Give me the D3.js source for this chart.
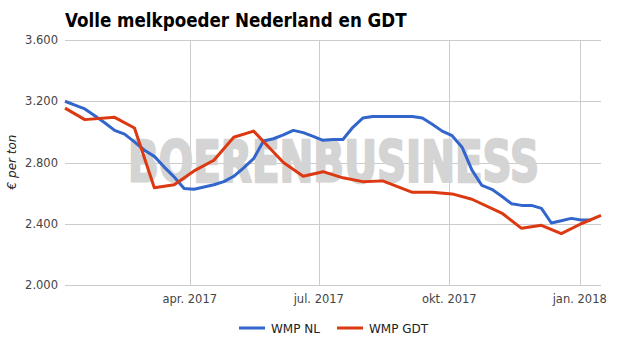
<!DOCTYPE html>
<html>
<head>
<meta charset="utf-8">
<script src="https://d3js.org/d3.v7.min.js"></script>
<style>
  body { margin: 0; background: #fff; }
  svg { display: block; font-family: "DejaVu Sans", sans-serif; }
</style>
</head>
<body>
<svg id="chart" width="625" height="355"></svg>
<script>
// WMP NL, weekly quotations from 3 jan 2017
var nlStart = "2017-01-03";
var nlValues = [3200, 3175, 3150, 3105, 3060, 3010, 2985, 2935, 2880, 2840,
  2770, 2705, 2630, 2625, 2640, 2655, 2675, 2710, 2765, 2825,
  2940, 2955, 2980, 3010, 2995, 2970, 2945, 2950, 2950, 3030,
  3090, 3100, 3100, 3100, 3100, 3100, 3090, 3050, 3005, 2975,
  2900, 2750, 2650, 2625, 2580, 2530, 2520, 2520, 2500, 2405,
  2420, 2435, 2425, 2425];

// WMP GDT, auction dates
var gdtDates = ["2017-01-03", "2017-01-17", "2017-02-07", "2017-02-21", "2017-03-07",
  "2017-03-21", "2017-04-04", "2017-04-18", "2017-05-02", "2017-05-16",
  "2017-06-06", "2017-06-20", "2017-07-04", "2017-07-18", "2017-08-01",
  "2017-08-15", "2017-09-05", "2017-09-19", "2017-10-03", "2017-10-17",
  "2017-11-07", "2017-11-21", "2017-12-05", "2017-12-19", "2018-01-02",
  "2018-01-16"];
var gdtValues = [3155, 3080, 3095, 3025, 2635, 2655, 2745, 2815, 2965, 3005,
  2800, 2710, 2740, 2700, 2675, 2680, 2605, 2605, 2595, 2560,
  2470, 2370, 2390, 2335, 2400, 2455];

var yTicks = [2000, 2400, 2800, 3200, 3600];
var xTicks = ["2017-04-01", "2017-07-01", "2017-10-01", "2018-01-01"];
var xTickLabels = ["apr. 2017", "jul. 2017", "okt. 2017", "jan. 2018"];
var seriesNames = ["WMP NL", "WMP GDT"];
var colors = ["#3366cc", "#dc3912"];

var parse = d3.timeParse("%Y-%m-%d");
var nl = nlValues.map(function(v, i) {
  return { date: d3.timeDay.offset(parse(nlStart), i * 7), value: v };
});
var gdt = gdtValues.map(function(v, i) {
  return { date: parse(gdtDates[i]), value: v };
});

var svg = d3.select("#chart");
var plotLeft = 65, plotRight = 601, plotTop = 40, plotBottom = 285;

var x = d3.scaleTime()
  .domain([parse("2017-01-03"), parse("2018-01-16")])
  .range([plotLeft, plotRight]);
var y = d3.scaleLinear().domain([2000, 3600]).range([plotBottom, plotTop]);

var fmt = function(d) { return d3.format(",")(d).replace(",", "."); };

// title
svg.append("text")
  .attr("x", 65).attr("y", 27)
  .style("font-family", "'DejaVu Sans Condensed', 'DejaVu Sans', sans-serif")
  .style("font-stretch", "condensed")
  .style("font-size", "18.6px").style("font-weight", "bold")
  .style("fill", "#000")
  .text("Volle melkpoeder Nederland en GDT");

// gridlines
svg.append("g").selectAll("line").data(yTicks).enter().append("line")
  .attr("x1", plotLeft).attr("x2", plotRight)
  .attr("y1", function(d) { return Math.round(y(d)) + 0.5; })
  .attr("y2", function(d) { return Math.round(y(d)) + 0.5; })
  .style("stroke", "#cccccc");

svg.append("g").selectAll("line").data(xTicks).enter().append("line")
  .attr("x1", function(d) { return Math.round(x(parse(d))) + 0.5; })
  .attr("x2", function(d) { return Math.round(x(parse(d))) + 0.5; })
  .attr("y1", plotTop).attr("y2", plotBottom)
  .style("stroke", "#cccccc");

// y labels
svg.append("g").selectAll("text").data(yTicks).enter().append("text")
  .attr("x", 58).attr("y", function(d) { return y(d) + 4; })
  .attr("text-anchor", "end")
  .style("font-size", "11.5px").style("fill", "#444")
  .text(fmt);

// x labels
svg.append("g").selectAll("text").data(xTicks).enter().append("text")
  .attr("x", function(d) { return x(parse(d)); })
  .attr("y", 303)
  .attr("text-anchor", "middle")
  .style("font-size", "11.5px").style("fill", "#444")
  .text(function(d, i) { return xTickLabels[i]; });

// y axis title
svg.append("text")
  .attr("transform", "translate(16,162) rotate(-90)")
  .attr("text-anchor", "middle")
  .style("font-size", "12px").style("font-style", "italic").style("fill", "#222")
  .text("€ per ton");

// watermark
svg.append("text")
  .attr("x", 128).attr("y", 182)
  .attr("textLength", 411).attr("lengthAdjust", "spacingAndGlyphs")
  .style("font-size", "57px").style("font-weight", "bold")
  .style("fill", "#d4d4d4")
  .style("stroke", "#d4d4d4").style("stroke-width", 2.5)
  .style("stroke-linejoin", "round")
  .text("BOERENBUSINESS");

// lines
var line = d3.line()
  .x(function(d) { return x(d.date); })
  .y(function(d) { return y(d.value); });

[nl, gdt].forEach(function(s, i) {
  svg.append("path")
    .datum(s)
    .attr("d", line)
    .style("fill", "none")
    .style("stroke", colors[i])
    .style("stroke-width", 3)
    .style("stroke-linejoin", "round");
});

// legend
var legendX = [239, 337];
var lg = svg.append("g").selectAll("g").data(seriesNames).enter().append("g")
  .attr("transform", function(d, i) { return "translate(" + legendX[i] + ",328)"; });
lg.append("line")
  .attr("x1", 0).attr("x2", 26).attr("y1", 0).attr("y2", 0)
  .style("stroke", function(d, i) { return colors[i]; })
  .style("stroke-width", 3);
lg.append("text")
  .attr("x", 32).attr("y", 4.5)
  .style("font-size", "12px").style("fill", "#222")
  .text(function(d) { return d; });
</script>
</body>
</html>
